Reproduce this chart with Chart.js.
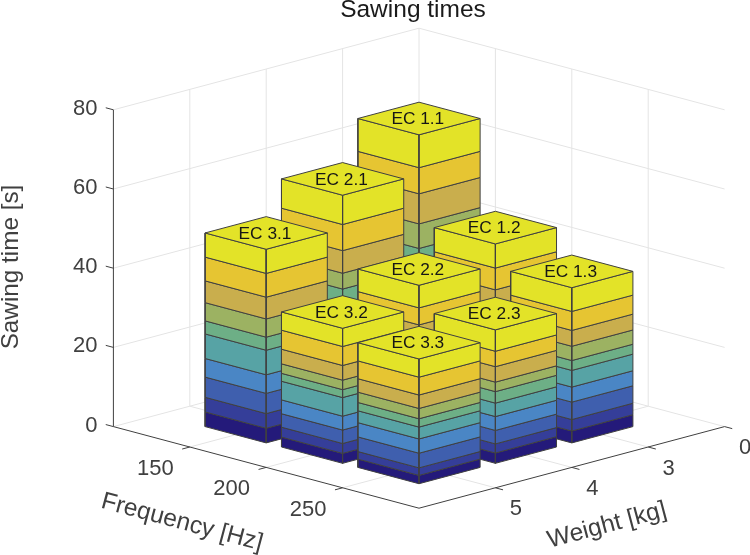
<!DOCTYPE html>
<html>
<head>
<meta charset="utf-8">
<style>html,body{margin:0;padding:0;background:#fff}canvas{display:block}</style>
<script src="https://cdn.jsdelivr.net/npm/chart.js@4/dist/chart.umd.min.js"></script>
</head>
<body>
<canvas id="c" width="750" height="555"></canvas>
<script>
// ---- data (stack segments, bottom to top, seconds) ----
const frequencyTicks = ['150', '200', '250'];
const weightTicks = ['0', '3', '4', '5'];
const timeTicks = [0, 20, 40, 60, 80];
const barLabels = ['EC 1.1','EC 1.2','EC 1.3','EC 2.1','EC 2.2','EC 2.3','EC 3.1','EC 3.2','EC 3.3'];
const ec11 = [5.4,5.4,7.4,6.8,9.0,4.8,6.2,7.6,6.6,8.3];
const ec12 = [3.3,3.4,4.7,4.3,5.5,3.0,4.2,5.1,5.5,6.1];
const ec13 = [3.0,2.9,4.4,3.8,4.2,2.5,3.6,4.0,4.8,6.0];
const ec21 = [4.7,4.7,6.4,6.0,7.8,4.1,4.0,5.7,6.6,7.4];
const ec22 = [3.0,3.0,4.2,3.8,5.0,2.7,3.7,4.4,4.3,5.7];
const ec23 = [2.6,2.3,3.4,3.5,3.4,2.9,2.4,3.9,3.9,5.4];
const ec31 = [3.7,3.7,5.1,4.7,6.2,3.3,4.6,5.5,6.0,6.1];
const ec32 = [2.5,2.5,3.4,3.5,4.7,2.0,2.4,3.7,4.8,4.6];
const ec33 = [2.1,1.9,3.7,3.6,3.0,2.1,2.6,3.4,4.5,4.6];
const segmentColors = ['#241a7a','#353e99','#3f5fae','#4a86c5','#57a3a5','#6daf86','#9cb262','#c9ae4d','#e6c532','#e3e328'];

// ---- 3D view: F runs along the front-left edge, W along the front-right edge ----
const view = {x0:419, y0:345, dx:76.4, dy:20.4, dz:3.96};
const project = (F, W, z) => ({x: view.x0 + view.dx*(F-W), y: view.y0 + view.dy*(F+W) - view.dz*z});
const GRID = '#e4e4e4', AXIS = '#404040', EDGE = '#404040';

const layers = [];
function line(pts, color, w){
  layers.push({type:'line', data:pts, borderColor:color, borderWidth:w||1, pointRadius:0, fill:false, tension:0});
}
function poly(pts, fillColor){
  layers.push({type:'line', data:pts.concat([pts[0]]), borderColor:EDGE, borderWidth:1, backgroundColor:fillColor,
               fill:'shape', pointRadius:0, tension:0, borderJoinStyle:'round'});
}
// walls and floor grid
timeTicks.forEach(z => {
  line([project(0,4,z), project(0,0,z), project(4,0,z)], GRID);
});
[0,1,2,3].forEach(W => line([project(0,W,0), project(0,W,80)], GRID));
[1,2,3].forEach(F => line([project(F,0,0), project(F,0,80)], GRID));
[1,2,3].forEach(F => line([project(F,0,0), project(F,4,0)], GRID));
[1,2,3].forEach(W => line([project(0,W,0), project(4,W,0)], GRID));
// axes and ticks
line([project(0,4,0), project(0,4,80)], AXIS);
line([project(0,4,0), project(4,4,0)], AXIS);
line([project(4,0,0), project(4,4,0)], AXIS);
timeTicks.forEach(z => line([project(0,4,z), project(-0.1,4,z)], AXIS));
frequencyTicks.forEach((t,i) => line([project(i+1,4,0), project(i+1,4.1,0)], AXIS));
weightTicks.forEach((t,i) => line([project(4,i,0), project(4.1,i,0)], AXIS));

// bars (painter's order: back to front)
const barValues = [ec11,ec12,ec13,ec21,ec22,ec23,ec31,ec32,ec33];
const bars = barValues.map((values,k) => ({values, label:barLabels[k], F:k%3+1, W:Math.floor(k/3)+1}))
  .sort((a,b) => (a.F+a.W)-(b.F+b.W));
const hw = 0.4;
const tops = [];
bars.forEach(b => {
  let z = 0;
  b.values.forEach((v,i) => {
    const z1 = z+v, c = segmentColors[i];
    poly([project(b.F-hw,b.W+hw,z),project(b.F+hw,b.W+hw,z),project(b.F+hw,b.W+hw,z1),project(b.F-hw,b.W+hw,z1)], c);
    poly([project(b.F+hw,b.W+hw,z),project(b.F+hw,b.W-hw,z),project(b.F+hw,b.W-hw,z1),project(b.F+hw,b.W+hw,z1)], c);
    z = z1;
  });
  poly([project(b.F-hw,b.W-hw,z),project(b.F+hw,b.W-hw,z),project(b.F+hw,b.W+hw,z),project(b.F-hw,b.W+hw,z)], segmentColors[9]);
  tops.push({label:b.label, p:project(b.F,b.W,z)});
});

// ---- text ----
const FONT = '"Liberation Sans", Arial, sans-serif';
function text(ctx, s, x, y, size, color, rot, align){
  ctx.save();
  ctx.translate(x,y); ctx.rotate(rot||0);
  ctx.font = size+'px '+FONT; ctx.fillStyle = color;
  ctx.textAlign = align||'center'; ctx.textBaseline = 'middle';
  ctx.fillText(s,0,0);
  ctx.restore();
}
const textPlugin = {
  id:'labels',
  afterDatasetsDraw(chart){
    const ctx = chart.ctx;
    const toX = v => chart.scales.x.getPixelForValue(v), toY = v => chart.scales.y.getPixelForValue(v);
    tops.forEach(t => text(ctx, t.label, toX(t.p.x)-1.2, toY(t.p.y)+1, 17.3, '#161616'));
    timeTicks.forEach(z => { const p = project(0,4,z); text(ctx, String(z), toX(p.x)-16, toY(p.y)-1, 22, AXIS, 0, 'right'); });
    frequencyTicks.forEach((t,i) => { const p = project(i+1,4,0); text(ctx, t, toX(p.x)-34.5, toY(p.y)+22, 22, AXIS); });
    weightTicks.forEach((t,i) => { const p = project(4,i,0); text(ctx, t, toX(p.x)+20.5, toY(p.y)+21.5, 22, AXIS); });
    text(ctx, 'Sawing times', 413, 10, 24.5, '#1a1a1a');
    text(ctx, 'Sawing time [s]', 11, 267, 24.3, AXIS, -Math.PI/2);
    const slope = Math.atan2(view.dy, view.dx);
    text(ctx, 'Frequency [Hz]', 182, 522.5, 24.5, AXIS, slope);
    text(ctx, 'Weight [kg]', 607, 525.5, 24.5, AXIS, -slope);
  }
};

new Chart(document.getElementById('c').getContext('2d'), {
  type:'scatter',
  data:{datasets: layers.map((d,i) => Object.assign(d,{order:layers.length-i, showLine:true, clip:false}))},
  options:{
    responsive:false, animation:false, events:[],
    layout:{padding:0},
    scales:{
      x:{type:'linear', min:0, max:750, display:false},
      y:{type:'linear', min:0, max:555, reverse:true, display:false}
    },
    plugins:{legend:{display:false}, tooltip:{enabled:false}, title:{display:false}}
  },
  plugins:[textPlugin]
});
</script>
</body>
</html>
